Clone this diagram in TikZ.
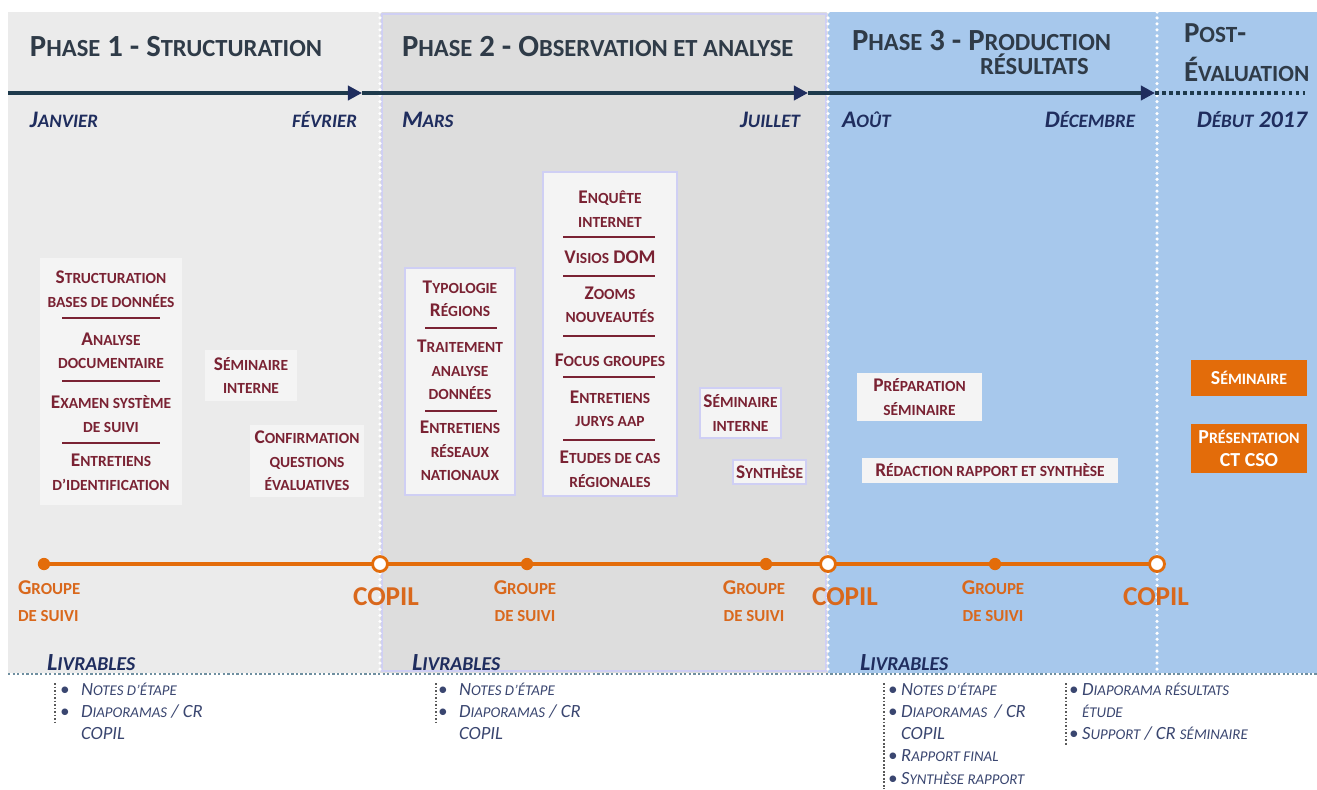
\documentclass[tikz,border=0pt]{standalone}
\usepackage{fontspec}
\setmainfont{Carlito}
\usepackage{scalefnt}
\usetikzlibrary{arrows.meta,fit}

\definecolor{pone}{HTML}{EBEBEB}
\definecolor{ptwo}{HTML}{DDDDDD}
\definecolor{pthree}{HTML}{A7C8EC}
\definecolor{head}{HTML}{2F3B48}
\definecolor{navy}{HTML}{1F2D5E}
\definecolor{tline}{HTML}{1E3A4C}
\definecolor{boxtxt}{HTML}{7A2233}
\definecolor{orng}{HTML}{E36C0A}
\definecolor{orngtxt}{HTML}{D9681C}
\definecolor{lavnd}{HTML}{CFCFF4}
\definecolor{livtxt}{HTML}{3A4670}
\definecolor{boxbg}{HTML}{F4F4F4}
\definecolor{dotline}{HTML}{6F8FA0}

% fake small capitals: reduced upper-case letters
\newcommand\sm[1]{{\scalefont{0.8}#1}}
\newcommand\bul{\makebox[12pt][l]{\textbullet}}
\newcommand\nob{\hspace*{12pt}}
\newcommand\bulb{\makebox[7.5pt][l]{\textbullet}}
\newcommand\nobb{\hspace*{7.5pt}}

\tikzset{
  heading/.style={font=\bfseries\fontsize{17.5}{20}\selectfont, text=head, anchor=base west},
  month/.style={font=\bfseries\itshape\fontsize{13.5}{16}\selectfont, text=navy},
  listbox/.style={fill=boxbg, draw=none, inner sep=0pt},
  lavbox/.style={listbox, draw=lavnd, line width=1.6pt},
  item/.style={font=\bfseries\fontsize{11}{13.4}\selectfont, text=boxtxt, align=center},
  sepline/.style={boxtxt, line width=1.4pt},
  orbox/.style={fill=orng, draw=none, inner sep=0pt},
  oritem/.style={font=\bfseries\fontsize{11.3}{13}\selectfont, text=white, align=center},
  grp/.style={font=\bfseries\fontsize{12}{15.4}\selectfont, text=orngtxt, align=center},
  copil/.style={font=\bfseries\fontsize{15.5}{18}\selectfont, text=orngtxt},
  livr/.style={font=\bfseries\itshape\fontsize{14}{16}\selectfont, text=navy, anchor=base west},
  deliv/.style={font=\itshape\fontsize{10.6}{12.6}\selectfont, text=livtxt, align=left, anchor=north west},
  fulldot/.style={circle, fill=orng, minimum size=7pt, inner sep=0pt},
  opendot/.style={circle, fill=white, draw=orng, line width=1.6pt, minimum size=8.5pt, inner sep=0pt},
  whitedots/.style={white, line width=2pt, dash pattern=on 0pt off 3.4pt, line cap=round},
  listrule/.style={black!65, line width=0.6pt, dash pattern=on 1pt off 1pt},
}

\begin{document}
\begin{tikzpicture}[x=0.02cm, y=-0.02cm, every node/.style={inner sep=0pt, outer sep=0pt}]
\useasboundingbox[fill=white] (0,0) rectangle (1317,789);

% ---- phase panels
\fill[pone]    (8,12)    rectangle (380,673);
\fill[ptwo]    (380,12)  rectangle (828,673);
\draw[lavnd, line width=1.2pt] (382,14) rectangle (826,671);
\fill[pthree]  (828,12)  rectangle (1317,673);

% ---- phase separators
\draw[whitedots] (380,12) -- (380,672);
\draw[whitedots] (828,12) -- (828,672);
\draw[whitedots] (1157,12) -- (1157,672);

% ---- headings
\node[heading] (h1) at (30,56) {P\sm{HASE} 1 - S\sm{TRUCTURATION}};
\node[heading] (h2) at (402,56) {P\sm{HASE} 2 - O\sm{BSERVATION ET ANALYSE}};
\node[heading] (h3) at (852,50) {P\sm{HASE} 3 - P\sm{RODUCTION}};
\node[heading] (h3b) at (980,74) {\sm{RÉSULTATS}};
\node[heading, font=\bfseries\fontsize{16.5}{19}\selectfont] (h4) at (1184,42) {P\sm{OST}-};
\node[heading, font=\bfseries\fontsize{16.5}{19}\selectfont] (h4b) at (1184,81) {É\sm{VALUATION}};

% ---- calendar axis
\coordinate (t0) at (8,93);
\coordinate (t1) at (362,93);
\coordinate (t2) at (808,93);
\coordinate (t3) at (1155,93);
\coordinate (t4) at (1305,93);
\draw[tline, line width=2.3pt, -{Triangle[length=8pt,width=8pt,color=navy]}] (t0) -- (t1);
\draw[tline, line width=2.3pt, -{Triangle[length=8pt,width=8pt,color=navy]}] (t1) -- (t2);
\draw[tline, line width=2.3pt, -{Triangle[length=8pt,width=8pt,color=navy]}] (t2) -- (t3);
\draw[tline, line width=2.2pt, dash pattern=on 2pt off 2pt] (t3) -- (t4);

\node[month, anchor=base west] (m1) at (30,127) {J\sm{ANVIER}};
\node[month, anchor=base east] (m2) at (357,127) {\sm{FÉVRIER}};
\node[month, anchor=base west] (m3) at (402,127) {M\sm{ARS}};
\node[month, anchor=base east] (m4) at (800,127) {J\sm{UILLET}};
\node[month, anchor=base west] (m5) at (842,127) {A\sm{OÛT}};
\node[month, anchor=base east] (m6) at (1135,127) {D\sm{ÉCEMBRE}};
\node[month, anchor=base east] (m7) at (1307,127) {D\sm{ÉBUT} 2017};

% ---- phase 1 activities
\node[listbox, fit={(40,258) (182,505)}] (box1) {};
\node[item] (b1a) at (111,289) {S\sm{TRUCTURATION}\\\sm{BASES DE DONNÉES}};
\draw[sepline] (62,318) -- (160,318);
\node[item] (b1b) at (111,351) {A\sm{NALYSE}\\\sm{DOCUMENTAIRE}};
\draw[sepline] (62,381) -- (160,381);
\node[item] (b1c) at (111,414) {E\sm{XAMEN SYSTÈME}\\\sm{DE SUIVI}};
\draw[sepline] (62,443) -- (160,443);
\node[item] (b1d) at (111,472) {E\sm{NTRETIENS}\\\sm{D’IDENTIFICATION}};

\node[listbox, fit={(205,350) (297,401)}] (sem1) {};
\node[item] (sem1t) at (sem1) {S\sm{ÉMINAIRE}\\\sm{INTERNE}};
\node[listbox, fit={(250,425) (364,497)}] (conf) {};
\node[item] (conft) at (conf) {C\sm{ONFIRMATION}\\\sm{QUESTIONS}\\\sm{ÉVALUATIVES}};

% ---- phase 2 activities
\node[lavbox, fit={(405,268) (515,495)}] (box2) {};
\node[item] (b2a) at (460,299) {T\sm{YPOLOGIE}\\R\sm{ÉGIONS}};
\draw[sepline] (425,328) -- (497,328);
\node[item] (b2b) at (460,370) {T\sm{RAITEMENT}\\\sm{ANALYSE}\\\sm{DONNÉES}};
\draw[sepline] (425,411) -- (497,411);
\node[item] (b2c) at (460,451) {E\sm{NTRETIENS}\\\sm{RÉSEAUX}\\\sm{NATIONAUX}};

\node[lavbox, fit={(543,172) (677,496)}] (box3) {};
\node[item] (b3a) at (610,209) {E\sm{NQUÊTE}\\\sm{INTERNET}};
\draw[sepline] (563,237) -- (655,237);
\node[item] (b3b) at (610,257) {V\sm{ISIOS} DOM};
\draw[sepline] (563,276) -- (655,276);
\node[item] (b3c) at (610,305) {Z\sm{OOMS}\\\sm{NOUVEAUTÉS}};
\draw[sepline] (563,336) -- (655,336);
\node[item] (b3d) at (610,360) {F\sm{OCUS GROUPES}};
\draw[sepline] (563,377) -- (655,377);
\node[item] (b3e) at (610,409) {E\sm{NTRETIENS}\\\sm{JURYS AAP}};
\draw[sepline] (563,440) -- (655,440);
\node[item] (b3f) at (610,469) {E\sm{TUDES DE CAS}\\\sm{RÉGIONALES}};

\node[lavbox, fit={(700,388) (781,438)}] (sem2) {};
\node[item] (sem2t) at (sem2) {S\sm{ÉMINAIRE}\\\sm{INTERNE}};
\node[lavbox, fit={(733,460) (806,484)}] (synth) {};
\node[item] (syntht) at (synth) {S\sm{YNTHÈSE}};

% ---- phase 3 activities
\node[listbox, fit={(857,373) (982,421)}] (prep) {};
\node[item] (prept) at (prep) {P\sm{RÉPARATION}\\\sm{SÉMINAIRE}};
\node[listbox, fit={(862,458) (1118,483)}] (redac) {};
\node[item] (redact) at (redac) {R\sm{ÉDACTION RAPPORT ET SYNTHÈSE}};

% ---- post-evaluation
\node[orbox, fit={(1191,360) (1307,396)}] (psem) {};
\node[oritem] (psemt) at (psem) {S\sm{ÉMINAIRE}};
\node[orbox, fit={(1191,424) (1307,473)}] (pres) {};
\node[oritem] (prest) at (pres) {P\sm{RÉSENTATION}\\CT CSO};

% ---- governance milestones
\coordinate (g0) at (44,564);
\coordinate (g7) at (1157,564);
\draw[orng, line width=2.4pt] (g0) -- (g7);
\node[fulldot] (d1) at (44,564) {};
\node[fulldot] (d2) at (527,564) {};
\node[fulldot] (d3) at (766,564) {};
\node[fulldot] (d4) at (995,564) {};
\node[opendot] (c1) at (380,564) {};
\node[opendot] (c2) at (828,564) {};
\node[opendot] (c3) at (1157,564) {};

\node[grp, anchor=north west, align=left] (l1) at (18,581) {G\sm{ROUPE}\\\sm{DE SUIVI}};
\node[copil] (l2) at (386,597) {COPIL};
\node[grp, anchor=north] (l3) at (525,581) {G\sm{ROUPE}\\\sm{DE SUIVI}};
\node[grp, anchor=north] (l4) at (754,581) {G\sm{ROUPE}\\\sm{DE SUIVI}};
\node[copil] (l5) at (845,597) {COPIL};
\node[grp, anchor=north] (l6) at (993,581) {G\sm{ROUPE}\\\sm{DE SUIVI}};
\node[copil] (l7) at (1156,597) {COPIL};

% ---- deliverables
\node[livr] (v1) at (47,670) {L\sm{IVRABLES}};
\node[livr] (v2) at (412,670) {L\sm{IVRABLES}};
\node[livr] (v3) at (860,670) {L\sm{IVRABLES}};
\draw[dotline, line width=0.9pt, dash pattern=on 1.3pt off 1.3pt] (8,674) -- (1317,674);

\draw[listrule] (55,683) -- (55,722);
\node[deliv] (lst1) at (60,683) {\bul N\sm{OTES D’ÉTAPE}\\\bul D\sm{IAPORAMAS} / CR\\\nob COPIL};
\draw[listrule] (436,683) -- (436,722);
\node[deliv] (lst2) at (438,683) {\bul N\sm{OTES D’ÉTAPE}\\\bul D\sm{IAPORAMAS} / CR\\\nob COPIL};
\draw[listrule] (884,683) -- (884,789);
\node[deliv] (lst3) at (888,683) {\bulb N\sm{OTES D’ÉTAPE}\\\bulb D\sm{IAPORAMAS} \,/ CR\\\nobb COPIL\\\bulb R\sm{APPORT FINAL}\\\bulb S\sm{YNTHÈSE RAPPORT}};
\draw[listrule] (1066,683) -- (1066,745);
\node[deliv] (lst4) at (1069,683) {\bulb D\sm{IAPORAMA RÉSULTATS}\\\nobb \sm{ÉTUDE}\\\bulb S\sm{UPPORT} / CR \sm{SÉMINAIRE}};
\end{tikzpicture}
\end{document}
